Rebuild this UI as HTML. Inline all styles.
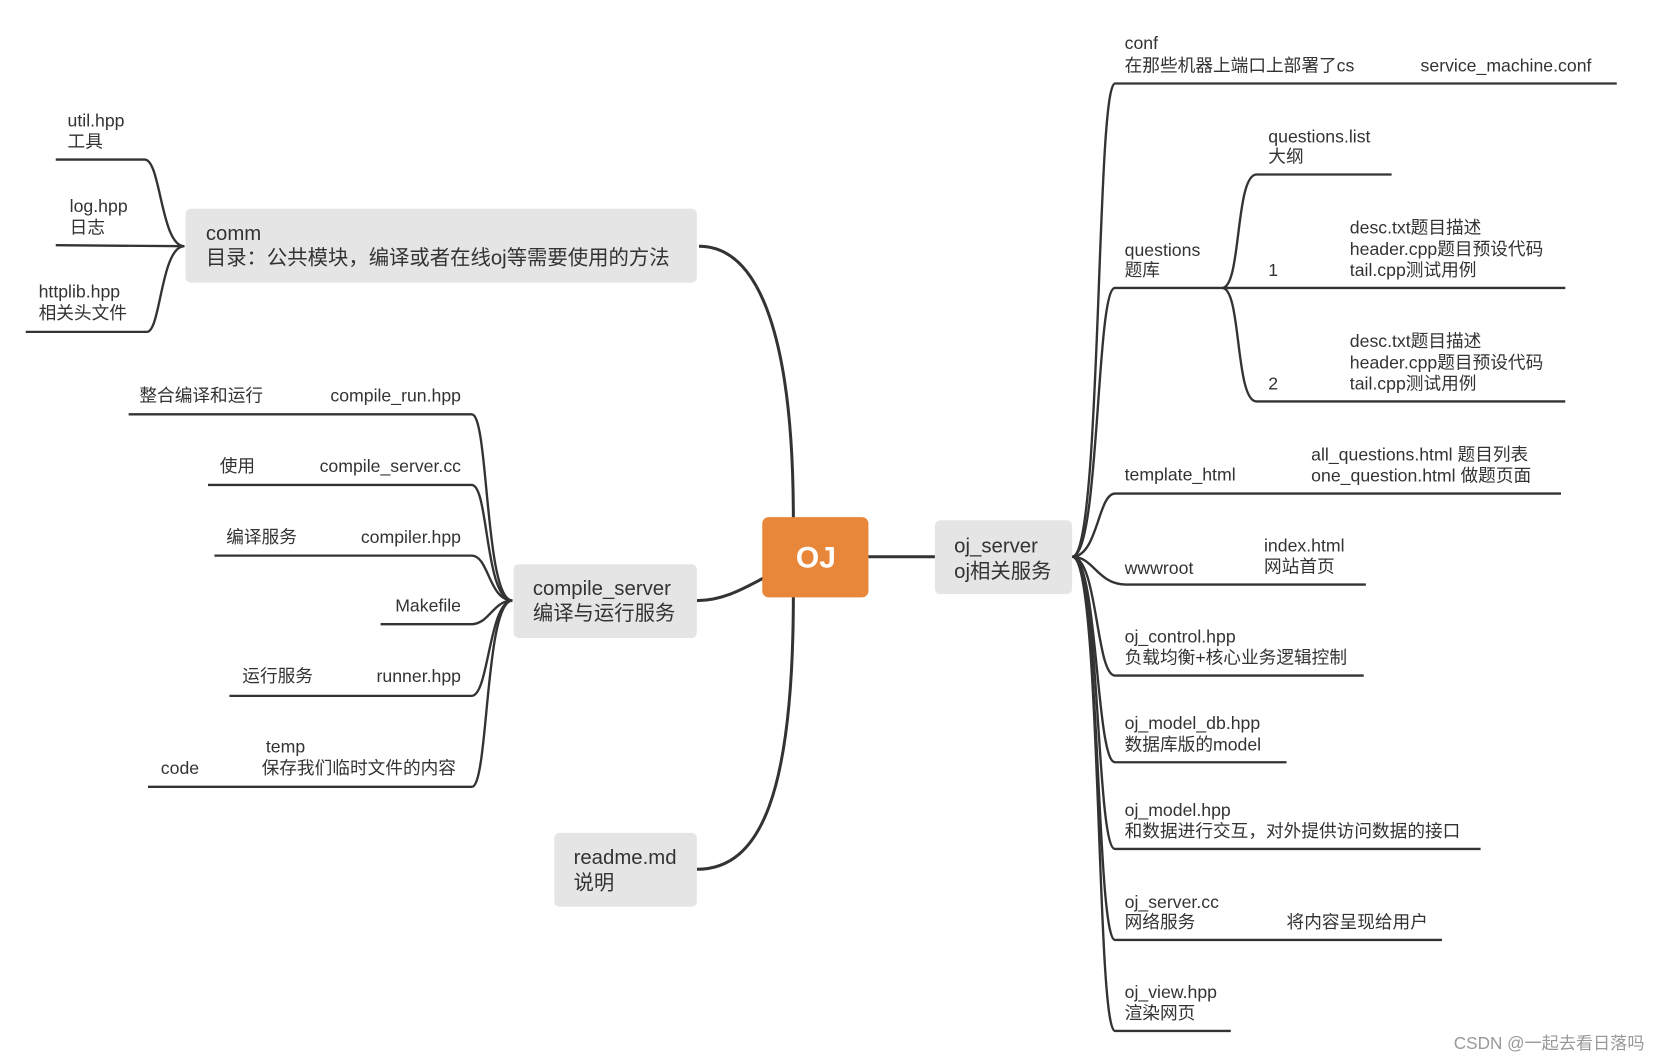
<!DOCTYPE html>
<html><head><meta charset="utf-8">
<style>
html,body{margin:0;padding:0;background:#fff;width:1680px;height:1062px;overflow:hidden}
svg{display:block}
text{font-family:"Liberation Sans","Noto Sans CJK SC",sans-serif;fill:#333;font-size:16.5px}
.b{font-size:19px}
.l{fill:none;stroke:#333;stroke-width:2.2}
.m{fill:none;stroke:#333;stroke-width:2.8}
</style></head><body>
<svg width="1680" height="1062" viewBox="0 0 1567 992" preserveAspectRatio="none" xmlns="http://www.w3.org/2000/svg">
<path class="m" d="M740,485 C740,320 710,230 652,230"/>
<path class="m" d="M712,540 C690,552 672,561 650,561"/>
<path class="m" d="M740,556 C740,740 710,812 650,812"/>
<path class="m" d="M810,520 L873,520"/>
<rect x="173" y="195" width="477" height="69" rx="5" fill="#e5e5e5"/>
<text class="b" x="192" y="224">comm</text>
<text class="b" x="192" y="247">目录：公共模块，编译或者在线oj等需要使用的方法</text>
<rect x="479" y="527" width="171" height="69" rx="5" fill="#e5e5e5"/>
<text class="b" x="497" y="556">compile_server</text>
<text class="b" x="497" y="579">编译与运行服务</text>
<rect x="517" y="778" width="133" height="69" rx="5" fill="#e5e5e5"/>
<text class="b" x="535" y="807">readme.md</text>
<text class="b" x="535" y="831">说明</text>
<rect x="872" y="486" width="128" height="69" rx="5" fill="#e5e5e5"/>
<text class="b" x="890" y="516">oj_server</text>
<text class="b" x="890" y="540">oj相关服务</text>
<rect x="711" y="483" width="99" height="75" rx="6" fill="#e8873a"/>
<text x="761" y="530" text-anchor="middle" style="fill:#fff;font-weight:bold;font-size:28px">OJ</text>
<path class="l" d="M52,149 L135,149 C150,149 150,230 172,230"/>
<path class="l" d="M52,229 L172,230"/>
<path class="l" d="M24,310 L137,310 C150,310 150,230 172,230"/>
<text x="63" y="118">util.hpp</text><text x="63" y="138">工具</text>
<text x="65" y="198">log.hpp</text><text x="65" y="218">日志</text>
<text x="36" y="278">httplib.hpp</text><text x="36" y="298">相关头文件</text>
<g>
<path class="l" d="M120,387 L440,387 C456,387 452,561 478,561"/>
<path class="l" d="M194,453 L440,453 C456,453 452,561 478,561"/>
<path class="l" d="M200,519 L440,519 C456,519 456,561 478,561"/>
<path class="l" d="M355,583 L440,583 C456,583 460,561 478,561"/>
<path class="l" d="M214,650 L440,650 C456,650 456,561 478,561"/>
<path class="l" d="M138,735 L440,735 C456,735 452,561 478,561"/>
<text x="130" y="375">整合编译和运行</text><text x="430" y="375" text-anchor="end">compile_run.hpp</text>
<text x="205" y="441">使用</text><text x="430" y="441" text-anchor="end">compile_server.cc</text>
<text x="211" y="507">编译服务</text><text x="430" y="507" text-anchor="end">compiler.hpp</text>
<text x="430" y="571" text-anchor="end">Makefile</text>
<text x="226" y="637">运行服务</text><text x="430" y="637" text-anchor="end">runner.hpp</text>
<text x="150" y="723">code</text><text x="248" y="703">temp</text><text x="244" y="723">保存我们临时文件的内容</text>
</g>
<g>
<path class="l" d="M1000,520 C1028,520 1022,78 1040,78 L1508,78"/>
<path class="l" d="M1000,520 C1026,520 1022,269 1040,269 L1140,269"/>
<path class="l" d="M1000,520 C1024,520 1024,461 1040,461 L1456,461"/>
<path class="l" d="M1000,520 C1020,520 1024,546 1050,546 L1274,546"/>
<path class="l" d="M1000,520 C1024,520 1022,631 1040,631 L1272,631"/>
<path class="l" d="M1000,520 C1024,520 1022,712 1040,712 L1200,712"/>
<path class="l" d="M1000,520 C1026,520 1022,793 1040,793 L1381,793"/>
<path class="l" d="M1000,520 C1026,520 1022,878 1040,878 L1345,878"/>
<path class="l" d="M1000,520 C1028,520 1022,963 1040,963 L1148,963"/>
<path class="l" d="M1140,269 C1158,269 1152,163 1172,163 L1298,163"/>
<path class="l" d="M1140,269 L1460,269"/>
<path class="l" d="M1140,269 C1158,269 1152,375 1172,375 L1460,375"/>
<text x="1049" y="46">conf</text><text x="1049" y="67">在那些机器上端口上部署了cs</text><text x="1325" y="67">service_machine.conf</text>
<text x="1049" y="239">questions</text><text x="1049" y="258">题库</text>
<text x="1183" y="133">questions.list</text><text x="1183" y="152">大纲</text>
<text x="1183" y="258">1</text>
<text x="1259" y="218">desc.txt题目描述</text><text x="1259" y="238">header.cpp题目预设代码</text><text x="1259" y="258">tail.cpp测试用例</text>
<text x="1183" y="364">2</text>
<text x="1259" y="324">desc.txt题目描述</text><text x="1259" y="344">header.cpp题目预设代码</text><text x="1259" y="364">tail.cpp测试用例</text>
<text x="1049" y="449">template_html</text>
<text x="1223" y="430">all_questions.html 题目列表</text><text x="1223" y="450">one_question.html 做题页面</text>
<text x="1049" y="536">wwwroot</text><text x="1179" y="515">index.html</text><text x="1179" y="535">网站首页</text>
<text x="1049" y="600">oj_control.hpp</text><text x="1049" y="620">负载均衡+核心业务逻辑控制</text>
<text x="1049" y="681">oj_model_db.hpp</text><text x="1049" y="701">数据库版的model</text>
<text x="1049" y="762">oj_model.hpp</text><text x="1049" y="782">和数据进行交互，对外提供访问数据的接口</text>
<text x="1049" y="848">oj_server.cc</text><text x="1049" y="867">网络服务</text><text x="1200" y="867">将内容呈现给用户</text>
<text x="1049" y="932">oj_view.hpp</text><text x="1049" y="952">渲染网页</text>
</g>
<text x="1356" y="980" style="fill:#999;font-size:16px">CSDN @一起去看日落吗</text>
</svg>
</body></html>
